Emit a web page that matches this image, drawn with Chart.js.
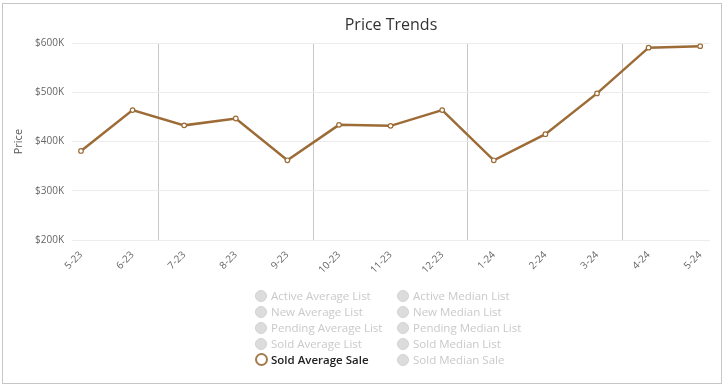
<!DOCTYPE html>
<html>
<head>
<meta charset="utf-8">
<script src="https://cdn.jsdelivr.net/npm/chart.js@4.4.1/dist/chart.umd.min.js"></script>
<style>
    html, body { margin: 0; padding: 0; background: #fff; }
    #wrap { position: relative; width: 728px; height: 386px; }
    #frame {
        position: absolute; left: 2px; top: 3px; width: 718px; height: 379px;
        border: 1px solid #c6c6c6; box-sizing: content-box;
    }
    #chart { position: absolute; left: 0; top: 0; }
    #legend {
        position: absolute; left: 255px; top: 288px;
        font-family: "Open Sans", sans-serif; font-size: 11.5px;
    }
    .item { position: absolute; white-space: nowrap; height: 16px; line-height: 16px; }
    .dot {
        position: absolute; left: 0; top: 2px; width: 10px; height: 10px;
        border-radius: 50%; background: #dcdcdc; border: 1px solid #d2d2d2;
    }
    .item span.txt { position: absolute; left: 16px; top: 0; color: #c9c9c9; }
    .item.on .dot { background: #fff; border: 2px solid #a47a4c; width: 9px; height: 9px; top: 1px; }
    .item.on span.txt { color: #222; font-weight: 600; }
</style>
</head>
<body>
<div id="wrap">
    <div id="frame"></div>
    <canvas id="chart" width="728" height="386"></canvas>
    <div id="legend"></div>
</div>
<script>
const months = ['5-23', '6-23', '7-23', '8-23', '9-23', '10-23', '11-23', '12-23', '1-24', '2-24', '3-24', '4-24', '5-24'];
const soldAverageSale = [381000, 464000, 433000, 447000, 362000, 434000, 432000, 464000, 362000, 415000, 498000, 591000, 594000];
const quarterBreaks = [1.5, 4.5, 7.5, 10.5];
const yTicks = [200000, 300000, 400000, 500000, 600000];

const legendCol1 = ['Active Average List', 'New Average List', 'Pending Average List', 'Sold Average List', 'Sold Average Sale'];
const legendCol2 = ['Active Median List', 'New Median List', 'Pending Median List', 'Sold Median List', 'Sold Median Sale'];
const activeSeries = 'Sold Average Sale';

const lineColor = '#9d6b36';

// legend (html)
const legend = document.getElementById('legend');
[legendCol1, legendCol2].forEach((col, c) => {
    col.forEach((name, r) => {
        const el = document.createElement('div');
        el.className = 'item' + (name === activeSeries ? ' on' : '');
        el.style.left = (c * 142) + 'px';
        el.style.top = (r * 16) + 'px';
        el.innerHTML = '<div class="dot"></div><span class="txt">' + name + '</span>';
        legend.appendChild(el);
    });
});

new Chart(document.getElementById('chart'), {
    type: 'line',
    data: {
        datasets: [{
            label: activeSeries,
            data: soldAverageSale.map((v, i) => ({x: i, y: v})),
            borderColor: lineColor,
            borderWidth: 2.5,
            pointRadius: 2.3,
            pointBorderWidth: 1.2,
            pointBackgroundColor: '#fff',
            pointBorderColor: lineColor,
            tension: 0
        }]
    },
    options: {
        responsive: false,
        animation: false,
        layout: {
            padding: {left: 8, right: 18, top: 0, bottom: 106}
        },
        plugins: {
            legend: {display: false},
            tooltip: {enabled: false},
            title: {
                display: true,
                fullSize: false,
                text: 'Price Trends',
                color: '#333',
                font: {family: 'Open Sans', size: 16, weight: 'normal'},
                padding: {top: 16, bottom: 8}
            }
        },
        scales: {
            x: {
                type: 'linear',
                min: -0.174,
                max: 12.19,
                afterBuildTicks: scale => {
                    const t = months.map((m, i) => i).concat(quarterBreaks).sort((a, b) => a - b);
                    scale.ticks = t.map(v => ({value: v}));
                },
                afterFit: scale => {
                    scale.height = 40;
                },
                ticks: {
                    autoSkip: false,
                    minRotation: 45,
                    maxRotation: 45,
                    padding: 9,
                    color: '#666',
                    font: {family: 'Open Sans', size: 10},
                    callback: v => Number.isInteger(v) ? months[v] : ''
                },
                grid: {
                    drawTicks: false,
                    color: ctx => (ctx.tick && !Number.isInteger(ctx.tick.value)) ? '#c8c8c8' : 'rgba(0,0,0,0)',
                    lineWidth: 1
                },
                border: {display: false}
            },
            y: {
                min: 200000,
                max: 600000,
                afterBuildTicks: scale => {
                    scale.ticks = yTicks.map(v => ({value: v}));
                },
                afterFit: scale => {
                    scale.width = 64;
                },
                ticks: {
                    padding: 8,
                    color: '#666',
                    font: {family: 'Open Sans', size: 10},
                    callback: v => '$' + (v / 1000) + 'K'
                },
                title: {
                    display: true,
                    text: 'Price',
                    color: '#555',
                    font: {family: 'Open Sans', size: 11},
                    padding: {top: 4, bottom: 0}
                },
                grid: {
                    drawTicks: false,
                    color: '#ececec',
                    lineWidth: 1
                },
                border: {display: false}
            }
        }
    }
});
</script>
</body>
</html>
